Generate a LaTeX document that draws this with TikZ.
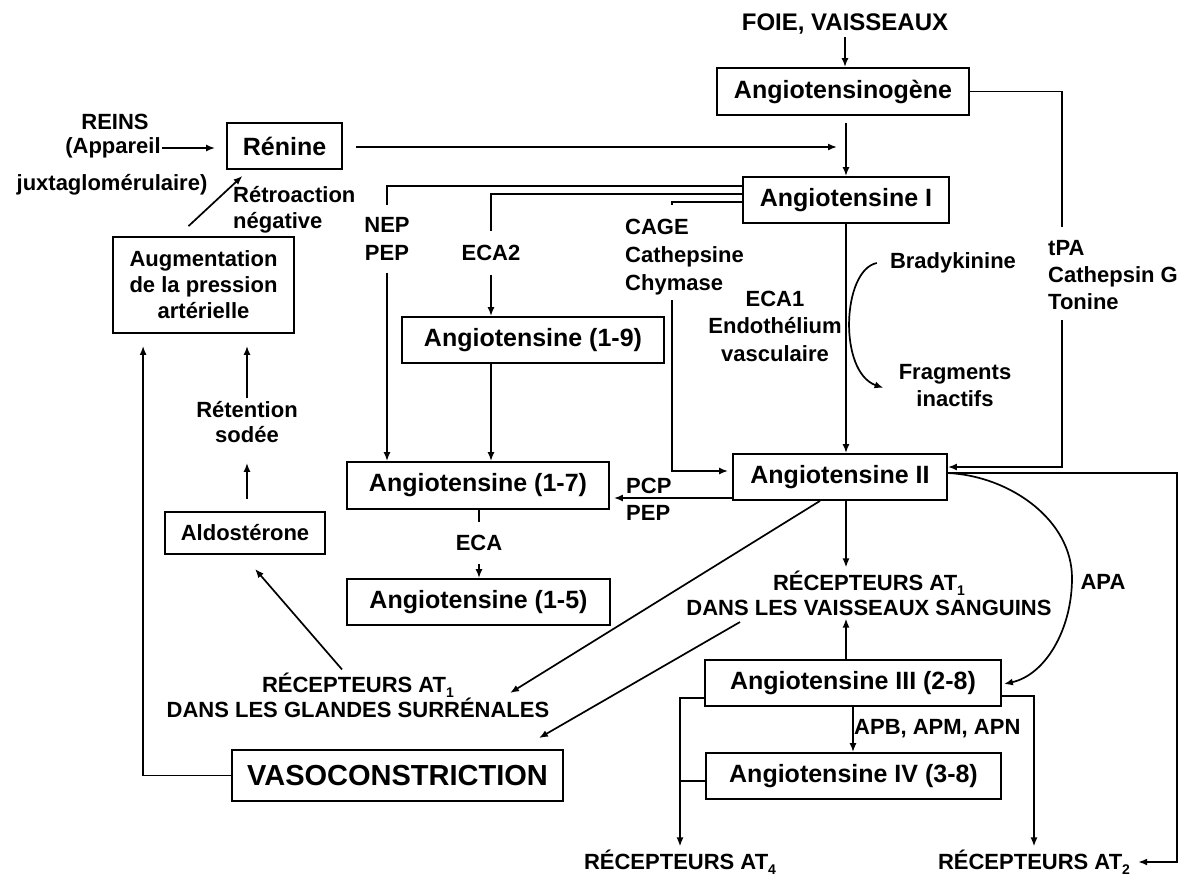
\documentclass[tikz,border=0pt]{standalone}
\usepackage{fontspec}
\setmainfont{Liberation Sans}
\usetikzlibrary{arrows.meta,calc}
\newcommand\bxf{\fontsize{25}{28}\selectfont\bfseries}
\newcommand\lbf{\fontsize{22}{27}\selectfont\bfseries}
\newcommand\rcf{\fontsize{22}{25}\selectfont\bfseries}
\newcommand\subsc[1]{\raisebox{-0.45ex}{\fontsize{14}{14}\selectfont #1}}
\begin{document}
\begin{tikzpicture}[x=1pt,y=-1pt,
  box/.style={draw, line width=1.8pt, inner sep=0pt, font=\bxf},
  lbl/.style={inner sep=3pt, font=\lbf, align=center},
  rlbl/.style={inner sep=3pt, font=\rcf, align=center},
  ln/.style={line width=1.7pt},
  arr/.style={ln, -{Latex[length=9pt,width=7pt]}},
]
\fill[white] (0,0) rectangle (1194,879);
\useasboundingbox (0,0) rectangle (1194,879);

% boxes
\node[box, minimum width=252pt, minimum height=47pt] (angn) at (843,91.5) {Angiotensinogène};
\node[box, minimum width=115pt, minimum height=46pt] (renine) at (284.5,146) {Rénine};
\node[box, minimum width=206pt, minimum height=46pt] (ang1) at (846,200) {Angiotensine I};
\node[box, minimum width=181pt, minimum height=96pt, align=center, font=\fontsize{22}{26}\selectfont\bfseries] (augm) at (203.5,285) {Augmentation\\de la pression\\artérielle};
\node[box, minimum width=262pt, minimum height=46pt] (a19) at (533,340) {Angiotensine (1-9)};
\node[box, minimum width=214pt, minimum height=46pt] (ang2) at (840,477) {Angiotensine II};
\node[box, minimum width=262pt, minimum height=47pt] (a17) at (478,485.5) {Angiotensine (1-7)};
\node[box, minimum width=160pt, minimum height=42pt, font=\lbf] (aldo) at (245,533) {Aldostérone};
\node[box, minimum width=263pt, minimum height=46pt] (a15) at (478.5,602) {Angiotensine (1-5)};
\node[box, minimum width=296pt, minimum height=46pt] (ang3) at (853,683) {Angiotensine III (2-8)};
\node[box, minimum width=295pt, minimum height=46pt] (ang4) at (853.5,776) {Angiotensine IV (3-8)};
\node[box, minimum width=331pt, minimum height=51pt, font=\fontsize{29}{32}\selectfont\bfseries] (vaso) at (397.5,775.5) {VASOCONSTRICTION};

% labels
\node[lbl, font=\fontsize{24}{27}\selectfont\bfseries] (foie) at (845,24) {FOIE, VAISSEAUX};
\node[lbl] (reins1) at (115,122) {REINS};
\node[lbl, inner sep=1pt] (reins2) at (113,148) {(Appareil};
\node[lbl] (reins3) at (112,185) {juxtaglomérulaire)};
\node[lbl, align=left, anchor=west, font=\fontsize{22}{26}\selectfont\bfseries] (retro) at (230,210) {Rétroaction\\négative};
\node[lbl, inner ysep=12pt, font=\fontsize{22}{28}\selectfont\bfseries] (nep) at (387,239) {NEP\\PEP};
\node[lbl, inner ysep=14pt] (eca2) at (491,253) {ECA2};
\node[lbl, align=left, anchor=north west, font=\fontsize{22}{28}\selectfont\bfseries] (cage) at (622,216) {CAGE\\Cathepsine\\Chymase};
\node[lbl, font=\fontsize{22}{27.5}\selectfont\bfseries] (eca1) at (775,326) {ECA1\\Endothélium\\vasculaire};
\node[lbl] (brady) at (953,263) {Bradykinine};
\node[lbl] (frag) at (955,386) {Fragments\\inactifs};
\node[lbl, align=left, anchor=north west] (tpa) at (1045,237) {tPA\\Cathepsin G\\Tonine};
\node[lbl, align=left, anchor=west] (pcp) at (623,499) {PCP\\PEP};
\node[lbl, inner ysep=13pt] (eca) at (479,543) {ECA};
\node[rlbl] (rec1v) at (869,593) {RÉCEPTEURS AT\subsc{1}\\DANS LES VAISSEAUX SANGUINS};
\node[lbl] (apa) at (1103,582) {APA};
\node[rlbl] (rec1g) at (358,695) {RÉCEPTEURS AT\subsc{1}\\DANS LES GLANDES SURRÉNALES};
\node[lbl, anchor=west] (apb) at (851,729) {APB, APM, APN};
\node[lbl, font=\fontsize{22}{25}\selectfont\bfseries] (retention) at (247,422) {Rétention\\sodée};
\node[rlbl] (at4) at (680,862) {RÉCEPTEURS AT\subsc{4}};
\node[rlbl] (at2) at (1034,862) {RÉCEPTEURS AT\subsc{2}};

% free-end coordinates
\coordinate (rnT) at (837,147);
\coordinate (cgA) at (672,205);
\coordinate (cgB) at (672,300);
\coordinate (tpT) at (1062,227);
\coordinate (tpB) at (1062,320);
\coordinate (frR) at (1177,473);
\coordinate (g1) at (510,693);
\coordinate (v1) at (740,622);

% connectors
\draw[arr] (foie.south) -- (foie.south |- angn.north);
\draw[arr] ($(angn.south -| ang1.north)+(0,7)$) -- (ang1.north);
\draw[arr] ($(renine.east)+(13,1)$) -- (rnT);
\draw[arr] (reins2.east) -- ($(reins2.east -| renine.west)+(-11,0)$);
\draw[arr] ($(augm.north)+(-15,-10)$) -- ($(renine.south)+(-42,6)$);

\draw[ln] ($(ang1.west)+(0,-14)$) -| (nep.north);
\draw[arr] (nep.south) -- (nep.south |- a17.north);
\draw[ln] ($(ang1.west)+(0,-6)$) -| (eca2.north);
\draw[arr] (eca2.south) -- (eca2.south |- a19.north);
\draw[arr] (a19.south -| eca2.south) -- (eca2.south |- a17.north);
\draw[ln] ($(ang1.west)+(0,2)$) -| (cgA);
\draw[arr, shorten >=4pt] (cgB) |- ($(ang2.west)+(0,-6)$);

\draw[arr] (ang1.south) -- (ang1.south |- ang2.north);
\draw[arr] ($(brady.west)+(-10,0)$) .. controls (842,270) and (838,372) .. ($(frag.west)+(-12,2)$);

\draw[ln] (angn.east) -| (tpT);
\draw[arr] (tpB) |- ($(ang2.east)+(0,-10)$);

\coordinate (pcpS) at ($(ang2.west)+(0,21)$);
\draw[arr, shorten >=4pt] (pcpS) -- (pcpS -| a17.east);

\draw[ln] (eca.north |- a17.south) -- (eca.north);
\draw[arr] (eca.south) -- (eca.south |- a15.north);

\draw[arr] (ang2.south -| ang1.south) -- (ang1.south |- rec1v.north);
\draw[arr] (ang3.north -| ang1.south) -- (ang1.south |- rec1v.south);
\draw[arr] (ang3.south) -- (ang3.south |- ang4.north);

\draw[arr] ($(ang2.east)+(0,-4)$) .. controls (1010,476) and (1072,520) .. (1072,578)
  .. controls (1072,630) and (1045,675) .. ($(ang3.east)+(2,1)$);
\draw[arr, shorten >=5pt] ($(ang2.east)+(0,-4)$) -- (frR) |- (at2.east);

\draw[arr] ($(ang3.west)+(0,15)$) -| (at4.north);
\coordinate (a4L) at ($(ang4.west)+(0,5)$);
\draw[ln] (a4L) -- (a4L -| at4.north);
\draw[arr] ($(ang3.east)+(0,13)$) -| (at2.north);

\draw[arr] ($(ang2.south)+(-20,0)$) -- (g1);
\draw[arr] (v1) -- ($(vaso.north east)+(-25,-11)$);
\draw[arr] ($(rec1g.north)+(-16,0)$) -- ($(aldo.south)+(10,14)$);
\draw[arr] ($(aldo.north)+(2,-12)$) -- ($(retention.south)+(0,17)$);
\draw[arr] (retention.north) -- ($(retention.north |- augm.south)+(0,12)$);
\draw[arr] (vaso.west) -| ($(augm.south west)+(31,12)$);
\end{tikzpicture}
\end{document}
